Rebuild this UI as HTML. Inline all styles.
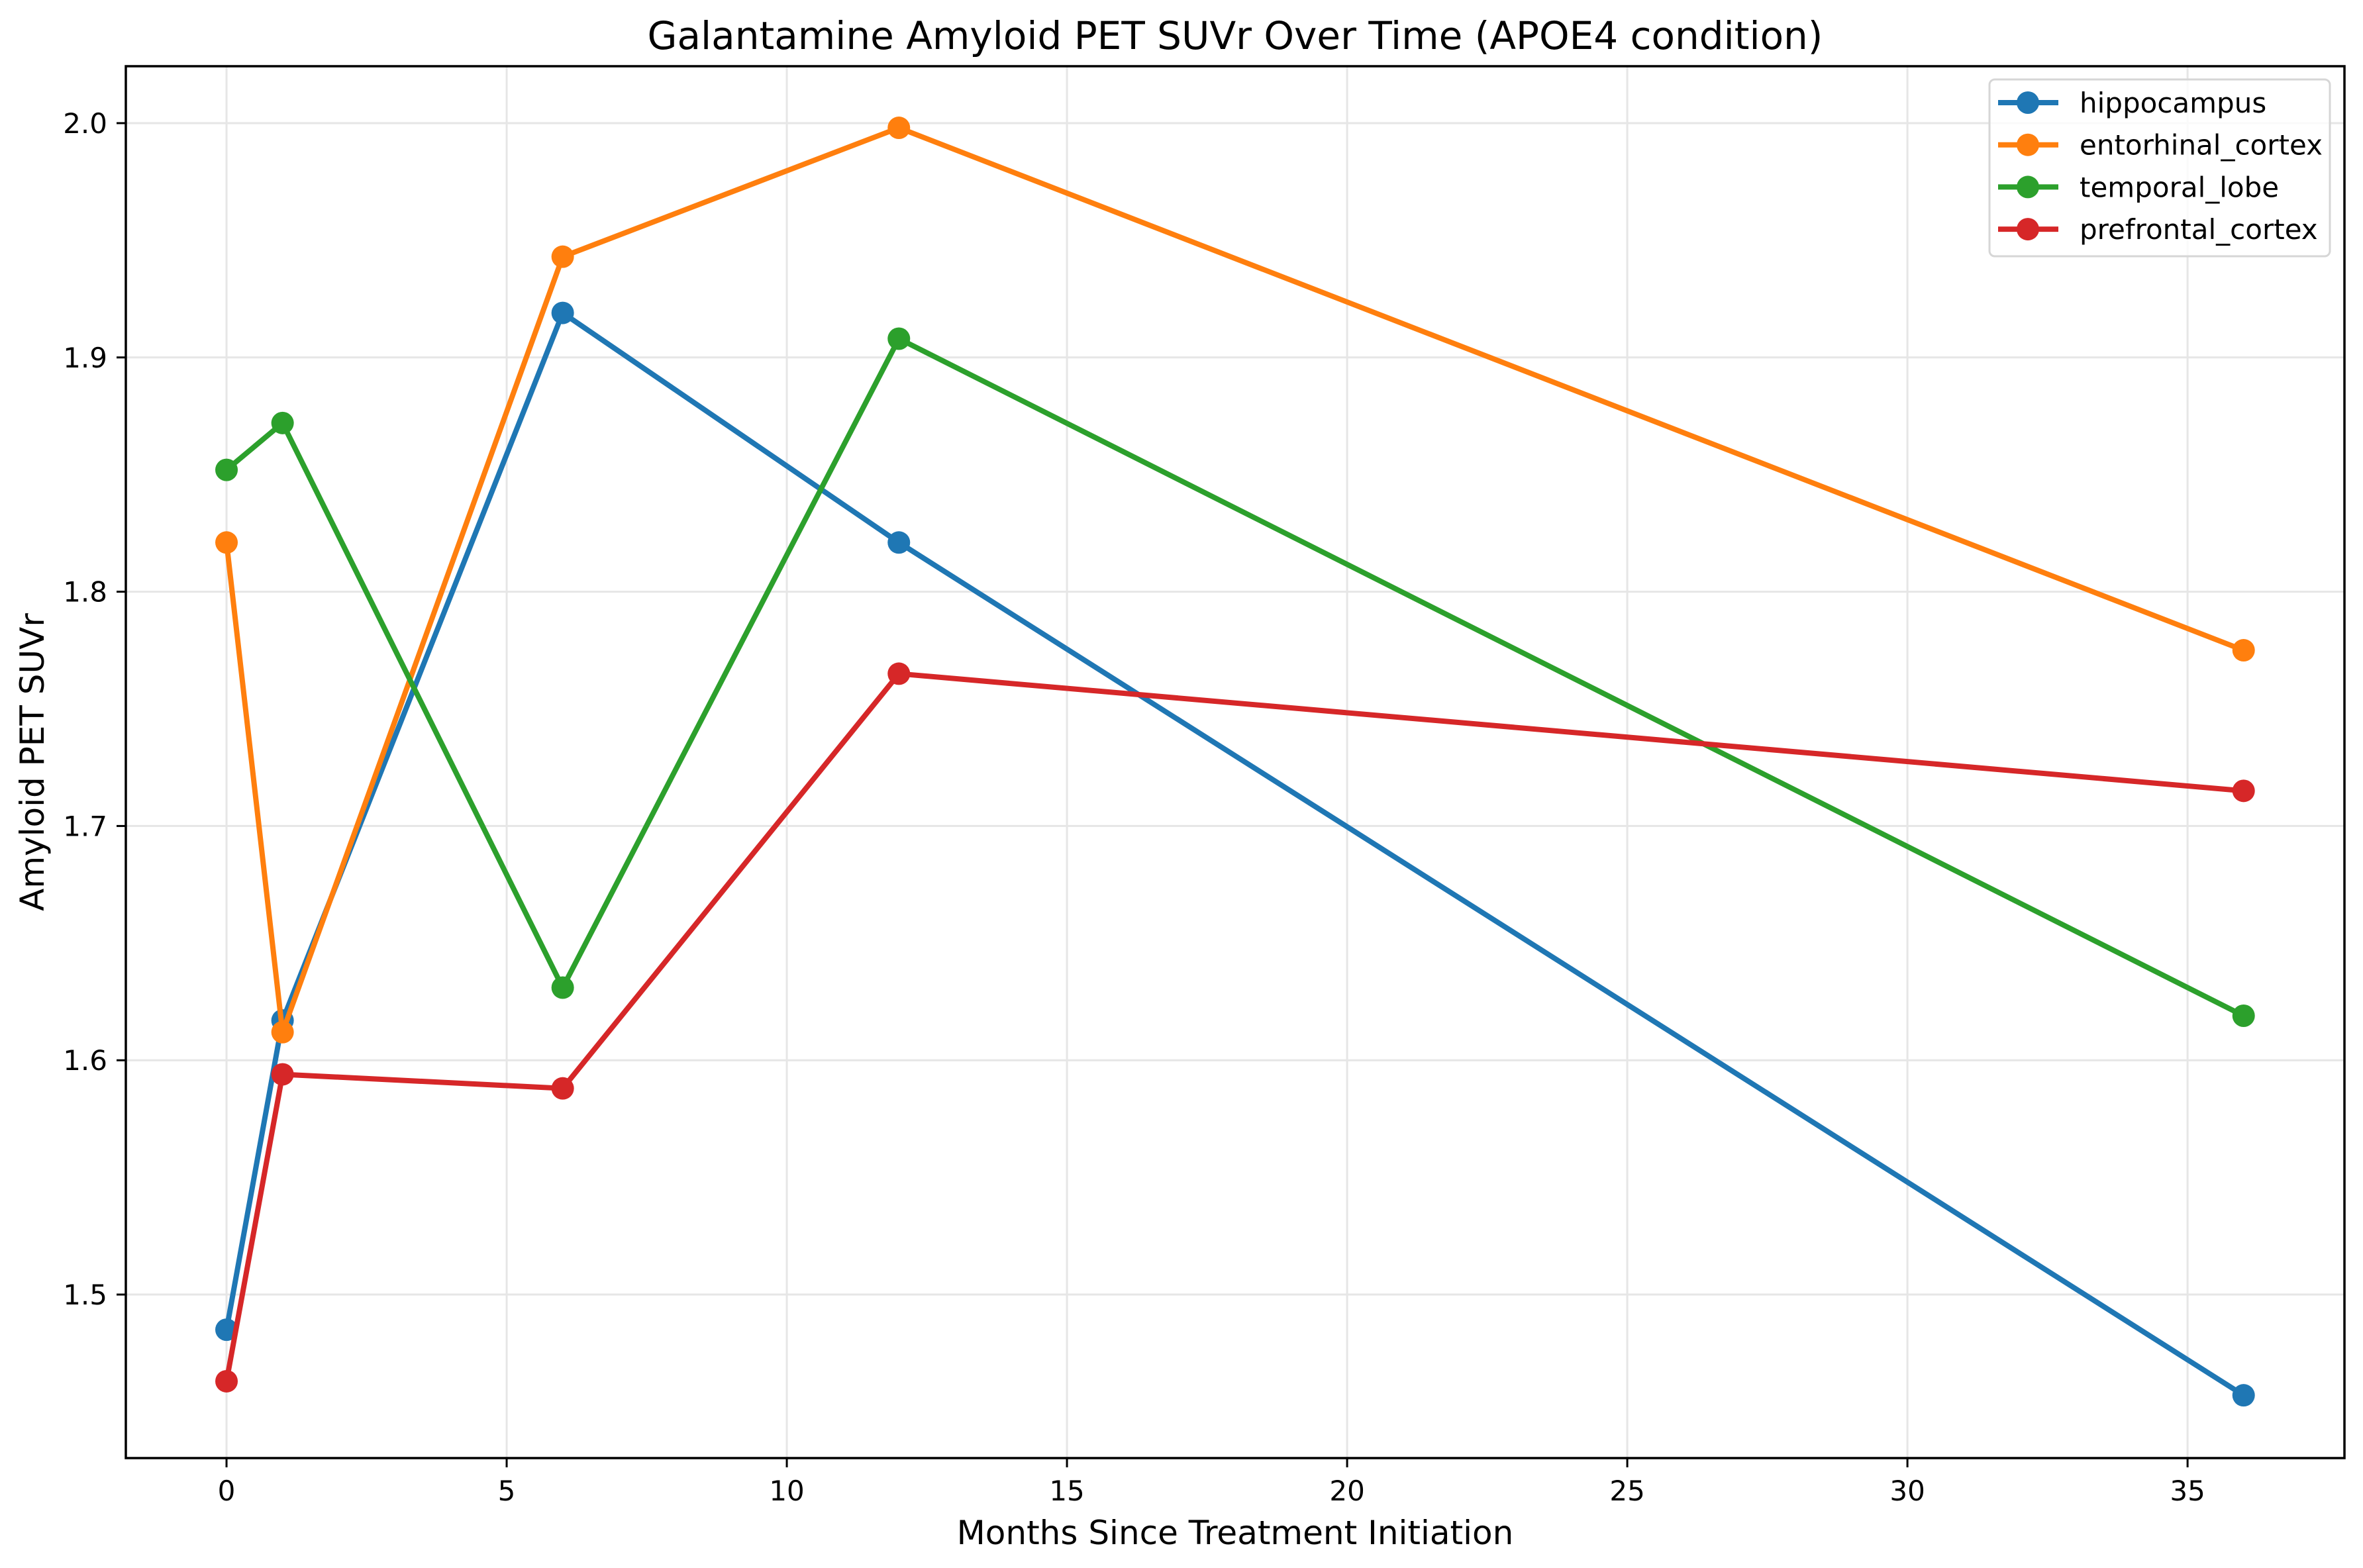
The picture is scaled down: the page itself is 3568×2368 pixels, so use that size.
<!DOCTYPE html>
<html><head><meta charset="utf-8"><style>
html,body{margin:0;padding:0;background:#fff;}
svg{display:block;font-family:"DejaVu Sans","Liberation Sans",sans-serif;}
</style></head><body>
<svg id="chart" width="3568" height="2368" viewBox="0 0 3568 2368" xmlns="http://www.w3.org/2000/svg">
<rect width="3568" height="2368" fill="#fff"/>
<g id="grid"></g>
<g id="series"></g>
<rect x="190" y="100" width="3350" height="2102" fill="none" stroke="#000" stroke-width="3.5"/>
<g id="ticks"></g>
<text x="1865" y="74" font-size="58" text-anchor="middle">Galantamine Amyloid PET SUVr Over Time (APOE4 condition)</text>
<text x="1865" y="2332" font-size="50" text-anchor="middle">Months Since Treatment Initiation</text>
<text x="66" y="1151" font-size="50" text-anchor="middle" transform="rotate(-90 66 1151)">Amyloid PET SUVr</text>
<g id="legend"></g>
</svg>
<script>
const months = [0, 1, 6, 12, 36];
const seriesNames = ["hippocampus", "entorhinal_cortex", "temporal_lobe", "prefrontal_cortex"];
const hippocampus = [1.485, 1.617, 1.919, 1.821, 1.457];
const entorhinal = [1.821, 1.612, 1.943, 1.998, 1.775];
const temporal = [1.852, 1.872, 1.631, 1.908, 1.619];
const prefrontal = [1.463, 1.594, 1.588, 1.765, 1.715];
const xTicks = [0, 5, 10, 15, 20, 25, 30, 35];
const yTicks = [1.5, 1.6, 1.7, 1.8, 1.9, 2.0];
const yTickLabels = ["1.5", "1.6", "1.7", "1.8", "1.9", "2.0"];
const colors = ["#1f77b4", "#ff7f0e", "#2ca02c", "#d62728"];

const NS = "http://www.w3.org/2000/svg";
const L = 190, R = 3540, T = 100, B = 2202;
const xMin = -1.797, xMax = 37.8, yMin = 1.4302, yMax = 2.0243;
const xs = v => L + (v - xMin) / (xMax - xMin) * (R - L);
const ys = v => B - (v - yMin) / (yMax - yMin) * (B - T);
function mk(tag, attrs, parent) {
  const e = document.createElementNS(NS, tag);
  for (const k in attrs) e.setAttribute(k, attrs[k]);
  parent.appendChild(e);
  return e;
}
const grid = document.getElementById("grid");
const ticks = document.getElementById("ticks");
xTicks.forEach(t => {
  const g = mk("line", {x1: xs(t), x2: xs(t), y1: T, y2: B, stroke: "#e6e6e6", "stroke-width": 3}, grid);
  
  
  const tk = mk("line", {x1: xs(t), x2: xs(t), y1: B, y2: B + 14, stroke: "#000", "stroke-width": 3}, ticks);
  
  
  const tx = mk("text", {x: xs(t), y: B + 64, "font-size": 42, "text-anchor": "middle"}, ticks);
  tx.textContent = String(t);
  
  
});
yTicks.forEach((t, i) => {
  const g = mk("line", {x1: L, x2: R, y1: ys(t), y2: ys(t), stroke: "#e6e6e6", "stroke-width": 3}, grid);
  
  
  const tk = mk("line", {x1: L - 14, x2: L, y1: ys(t), y2: ys(t), stroke: "#000", "stroke-width": 3}, ticks);
  
  
  const tx = mk("text", {x: L - 28, y: ys(t) + 15, "font-size": 42, "text-anchor": "end"}, ticks);
  tx.textContent = yTickLabels[i];
  
  
});
const seriesData = [hippocampus, entorhinal, temporal, prefrontal];
const sg = document.getElementById("series");
seriesData.forEach((vals, si) => {
  const g = mk("g", {}, sg);
  
  
  const pts = vals.map((v, i) => xs(months[i]) + "," + ys(v)).join(" ");
  const pl = mk("polyline", {points: pts, fill: "none", stroke: colors[si], "stroke-width": 8, "stroke-linejoin": "round", "stroke-linecap": "round"}, g);
  
  
  vals.forEach((v, i) => {
    const c = mk("circle", {cx: xs(months[i]), cy: ys(v), r: 17, fill: colors[si]}, g);
    
    
  });
});
const lg = document.getElementById("legend");
const box = mk("rect", {x: 3004, y: 120, width: 514, height: 267, rx: 8, fill: "#fff", "fill-opacity": 0.8, stroke: "#d6d6d6", "stroke-width": 3}, lg);


seriesNames.forEach((n, i) => {
  const y = 155 + i * 63.7;
  const g = mk("g", {}, lg);
  
  
  mk("line", {x1: 3017, x2: 3108, y1: y, y2: y, stroke: colors[i], "stroke-width": 8}, g);
  mk("circle", {cx: 3062, cy: y, r: 17, fill: colors[i]}, g);
  const t = mk("text", {x: 3140, y: y + 15, "font-size": 42}, g);
  t.textContent = n;
});
</script>
</body></html>
